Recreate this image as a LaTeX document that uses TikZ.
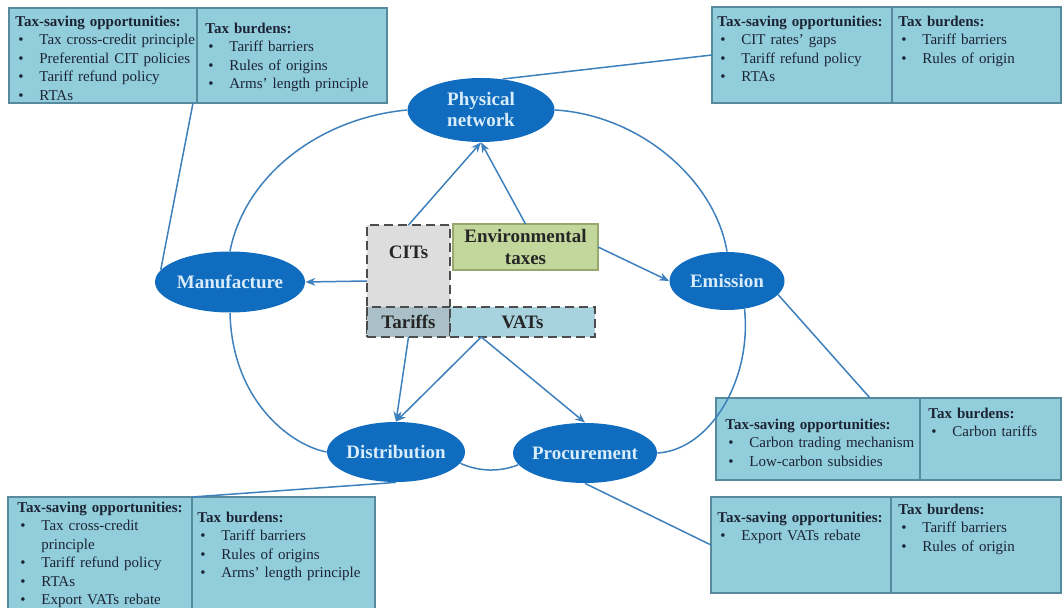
\documentclass[tikz,border=0pt]{standalone}
\usepackage{fontspec}
\setmainfont{Liberation Serif}
\usetikzlibrary{shapes.geometric,arrows.meta}
\definecolor{panelblue}{RGB}{146,205,220}
\definecolor{panelline}{RGB}{88,138,158}
\definecolor{ovalblue}{RGB}{16,108,190}
\definecolor{ovaltext}{RGB}{216,236,250}
\definecolor{linkblue}{RGB}{62,128,188}
\definecolor{citgray}{RGB}{221,221,221}
\definecolor{tarblue}{RGB}{170,192,200}
\definecolor{vatblue}{RGB}{168,210,222}
\definecolor{envgreen}{RGB}{195,214,155}
\definecolor{envline}{RGB}{150,168,112}
\definecolor{inktext}{RGB}{28,36,52}
\newcommand{\hd}[1]{\noindent\textbf{#1}\par}
\newcommand{\bl}[1]{\noindent\hangindent=12pt\hangafter=1\makebox[12pt][l]{\hspace{1.5pt}\textbullet}#1\par}
\tikzset{
  panel/.style={draw=panelline,fill=panelblue,line width=0.8pt,inner sep=0pt,outer sep=0pt,anchor=north west},
  paneltext/.style={anchor=north west,inner sep=0pt,align=left,text=inktext,font=\fontsize{7.5}{9.2}\selectfont},
  oval/.style={ellipse,fill=ovalblue,inner sep=0pt,inner xsep=-4pt,text=ovaltext,align=center,font=\fontsize{9.5}{10.5}\selectfont\bfseries},
  taxbox/.style={draw=black!70,dash pattern=on 4.5pt off 2.5pt,line width=1.2pt,inner sep=0pt,outer sep=0pt,anchor=north west},
  taxlabel/.style={text=black!85,align=center,font=\fontsize{9.5}{11}\selectfont\bfseries},
  link/.style={draw=linkblue,line width=0.75pt},
  flow/.style={link,-{Stealth[length=5pt,width=4pt]}}
}
\begin{document}
\begin{tikzpicture}[x=0.5pt,y=-0.5pt]
\useasboundingbox (0,0) rectangle (1063,608);
\node[panel,minimum width=94pt,minimum height=47.5pt] (mfgopp) at (9,8) {};
\node[panel,minimum width=95pt,minimum height=47.5pt] (mfgbur) at (197,8) {};
\node[panel,minimum width=90pt,minimum height=48pt] (netopp) at (712,7) {};
\node[panel,minimum width=84.5pt,minimum height=48pt] (netbur) at (892,7) {};
\node[panel,minimum width=102pt,minimum height=41pt] (emiopp) at (716,398) {};
\node[panel,minimum width=70.5pt,minimum height=41pt] (emibur) at (920,398) {};
\node[panel,minimum width=92pt,minimum height=58pt] (disopp) at (8,497) {};
\node[panel,minimum width=91.5pt,minimum height=58pt] (disbur) at (192,497) {};
\node[panel,minimum width=90pt,minimum height=48pt] (proopp) at (711,497) {};
\node[panel,minimum width=85pt,minimum height=48pt] (probur) at (891,497) {};
\node[paneltext,text width=91pt] (mfgopptxt) at (15,15.7) {\hd{Tax-saving opportunities:}\bl{Tax cross-credit principle}\bl{Preferential CIT policies}\bl{Tariff refund policy}\bl{RTAs}};
\node[paneltext,text width=88pt] (mfgburtxt) at (205,22.7) {\hd{Tax burdens:}\bl{Tariff barriers}\bl{Rules of origins}\bl{Arms' length principle}};
\node[paneltext,text width=86pt] (netopptxt) at (717,15.7) {\hd{Tax-saving opportunities:}\bl{CIT rates' gaps}\bl{Tariff refund policy}\bl{RTAs}};
\node[paneltext,text width=80pt] (netburtxt) at (898,15.7) {\hd{Tax burdens:}\bl{Tariff barriers}\bl{Rules of origin}};
\node[paneltext,text width=95pt] (emiopptxt) at (725,418.7) {\hd{Tax-saving opportunities:}\bl{Carbon trading mechanism}\bl{Low-carbon subsidies}};
\node[paneltext,text width=64pt] (emiburtxt) at (928,407.7) {\hd{Tax burdens:}\bl{Carbon tariffs}};
\node[paneltext,text width=87pt] (disopptxt) at (17,501.7) {\hd{Tax-saving opportunities:}\bl{Tax cross-credit\newline principle}\bl{Tariff refund policy}\bl{RTAs}\bl{Export VATs rebate}};
\node[paneltext,text width=86pt] (disburtxt) at (197,511.7) {\hd{Tax burdens:}\bl{Tariff barriers}\bl{Rules of origins}\bl{Arms' length principle}};
\node[paneltext,text width=86pt] (proopptxt) at (717,511.7) {\hd{Tax-saving opportunities:}\bl{Export VATs rebate}};
\node[paneltext,text width=78pt] (proburtxt) at (898,503.7) {\hd{Tax burdens:}\bl{Tariff barriers}\bl{Rules of origin}};
\node[oval,minimum width=73.5pt,minimum height=32pt] (net) at (481,110) {Physical\\network};
\node[oval,minimum width=75pt,minimum height=30.5pt] (mfg) at (230,282) {Manufacture};
\node[oval,minimum width=57.5pt,minimum height=29pt] (emi) at (727,281) {Emission};
\node[oval,minimum width=69pt,minimum height=30pt] (dis) at (396,452) {Distribution};
\node[oval,minimum width=72pt,minimum height=30pt] (pro) at (585,453) {Procurement};
\node[taxbox,fill=citgray,minimum width=41.5pt,minimum height=56pt] (cit) at (367,225) {};
\node[taxlabel] (citlbl) at (408.5,252) {CITs};
\node[taxbox,taxlabel,fill=tarblue,minimum width=41.5pt,minimum height=15pt] (tar) at (367,307) {Tariffs};
\node[taxbox,taxlabel,fill=vatblue,minimum width=72.5pt,minimum height=15pt] (vat) at (450,307) {VATs};
\node[draw=envline,fill=envgreen,line width=0.8pt,inner sep=0pt,outer sep=0pt,anchor=north west,minimum width=72.5pt,minimum height=23pt,taxlabel] (env) at (453,224) {Environmental\\taxes};
\draw[flow] (cit.north) -- (net.south);
\draw[flow] (env.north) -- (net.south);
\draw[flow] (cit.west) -- (mfg.east);
\draw[flow] (env.east) -- (emi.west);
\draw[flow] (tar.south) -- (dis.north);
\draw[flow] (vat.-160) -- (dis.north);
\draw[flow] (vat.-160) -- (pro.north);
\draw[link] (mfg.north) .. controls (245,175) and (320,118) .. (net.west);
\draw[link] (net.east) .. controls (640,115) and (715,180) .. (emi.north);
\draw[link] (emi.-58) .. controls (752,380) and (710,450) .. (pro.east);
\draw[link] (mfg.south) .. controls (232,400) and (290,445) .. (dis.west);
\draw[link] (dis.-10) .. controls (480,472) and (500,472) .. (pro.-170);
\draw[link] (mfg.170) -- ([xshift=-2pt]mfgopp.south east);
\draw[link] (net.55) -- (netopp.west);
\draw[link] (emi.-15) -- ([xshift=-25pt]emiopp.north east);
\draw[link] (dis.south) -- (disopp.north east);
\draw[link] (pro.south) -- (proopp.west);
\end{tikzpicture}
\end{document}
